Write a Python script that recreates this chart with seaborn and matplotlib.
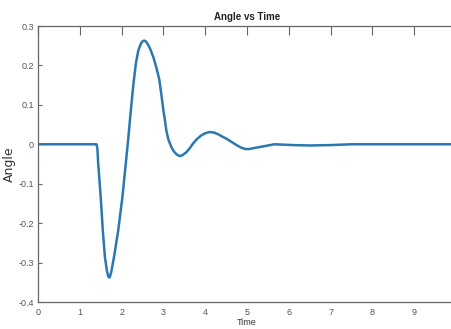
import matplotlib
matplotlib.use("Agg")
import matplotlib.pyplot as plt
import seaborn as sns
import pandas as pd

# Values
time = [0.0, 0.5, 1.0, 1.40, 1.42, 1.44, 1.50, 1.55, 1.60, 1.65, 1.68, 1.70, 1.72,
        1.75, 1.82, 1.92, 2.02, 2.10, 2.16, 2.22, 2.28, 2.34, 2.40, 2.46, 2.50,
        2.54, 2.58, 2.62, 2.68, 2.76, 2.83, 2.90, 2.95, 3.00, 3.04, 3.07, 3.12,
        3.19, 3.25, 3.32, 3.39, 3.45, 3.55, 3.63, 3.71, 3.80, 3.90, 4.00, 4.10,
        4.20, 4.30, 4.40, 4.51, 4.63, 4.75, 4.85, 4.95, 5.05, 5.30, 5.66, 6.10,
        6.50, 7.00, 7.50, 8.00, 9.00, 10.0]
angle = [0.0, 0.0, 0.0, 0.0, -0.010, -0.049, -0.133, -0.218, -0.285, -0.322, -0.334,
         -0.338, -0.336, -0.325, -0.285, -0.218, -0.133, -0.049, 0.015, 0.085,
         0.150, 0.204, 0.238, 0.255, 0.261, 0.263, 0.261, 0.255, 0.243, 0.221,
         0.195, 0.165, 0.127, 0.086, 0.058, 0.035, 0.012, -0.007, -0.018, -0.026,
         -0.030, -0.028, -0.020, -0.010, 0.002, 0.013, 0.022, 0.028, 0.031, 0.030,
         0.026, 0.020, 0.014, 0.006, -0.002, -0.008, -0.012, -0.012, -0.007, 0.0,
         -0.002, -0.003, -0.002, 0.0, 0.0, 0.0, 0.0]
x_ticks = [0, 1, 2, 3, 4, 5, 6, 7, 8, 9]
y_ticks = [-0.4, -0.3, -0.2, -0.1, 0, 0.1, 0.2, 0.3]
y_tick_labels = ["-0.4", "-0.3", "-0.2", "-0.1", "0", "0.1", "0.2", "0.3"]

sns.set_style("white")
plt.rcParams["font.family"] = ["Liberation Sans Narrow", "Liberation Sans", "DejaVu Sans"]

df = pd.DataFrame({"Time": time, "Angle": angle})

fig = plt.figure(figsize=(4.51, 3.29), dpi=100)
ax = fig.add_axes([38 / 451, 1 - 302 / 329, (456 - 38) / 451, (302 - 26) / 329])

sns.lineplot(data=df, x="Time", y="Angle", ax=ax, sort=False, estimator=None,
             color="#2a78b0", linewidth=1.8)

ax.set_xlim(0, 10)
ax.set_ylim(-0.4, 0.3)
ax.set_xticks(x_ticks)
ax.set_xticklabels([str(t) for t in x_ticks])
ax.set_yticks(y_ticks)
ax.set_yticklabels(y_tick_labels)

for s in ax.spines.values():
    s.set_color("#666666")
    s.set_linewidth(0.9)

ax.tick_params(axis="x", direction="in", length=6.5, width=0.8, color="#666666",
               labelsize=6.5, labelcolor="#555555", top=True, pad=4)
ax.tick_params(axis="y", direction="in", length=3, width=0.8, color="#666666",
               labelsize=6.5, labelcolor="#555555", left=True, pad=3)

ax.set_title("Angle vs Time", fontsize=7, fontweight="bold", pad=4, color="#222222")
ax.set_xlabel("Time", fontsize=6.5, color="#333333", labelpad=1)
ax.set_ylabel("Angle", fontsize=9, color="#333333", labelpad=2, family="DejaVu Sans")

fig.savefig("out.png", dpi=100)
